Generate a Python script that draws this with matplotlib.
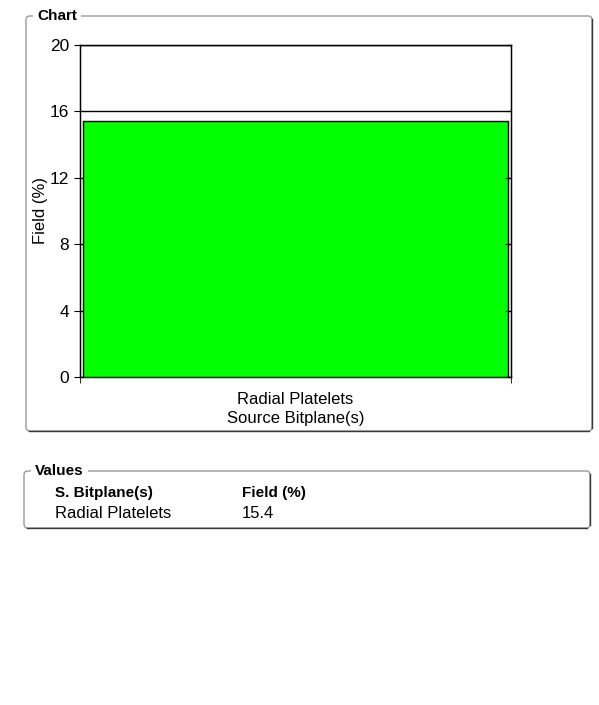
import matplotlib
matplotlib.use("Agg")
import matplotlib.pyplot as plt
from matplotlib.patches import FancyBboxPatch
from matplotlib.lines import Line2D

plt.rcParams['font.family'] = ['Liberation Sans', 'DejaVu Sans']

categories = ["Radial Platelets"]
field_pct = [15.4]
y_ticks = [0, 4, 8, 12, 16, 20]
table_headers = ["S. Bitplane(s)", "Field (%)"]

W, H = 599, 705
fig = plt.figure(figsize=(W / 100, H / 100), dpi=100)


def fx(px):
    return px / W


def fy(py):
    return 1 - py / H


def group_box(x0, y0, x1, y1, title, tx):
    box = FancyBboxPatch((fx(x0), fy(y1)), fx(x1) - fx(x0), fy(y0) - fy(y1),
                         boxstyle="round,pad=0,rounding_size=0.006",
                         transform=fig.transFigure, facecolor="none",
                         edgecolor="#9a9a9a", linewidth=1.0)
    fig.patches.append(box)
    # darker bottom and right edges
    fig.add_artist(Line2D([fx(x0 + 3), fx(x1 - 3)], [fy(y1), fy(y1)],
                          transform=fig.transFigure, color="#3a3a3a", lw=1.0))
    fig.add_artist(Line2D([fx(x1), fx(x1)], [fy(y0 + 3), fy(y1 - 3)],
                          transform=fig.transFigure, color="#3a3a3a", lw=1.0))
    fig.text(fx(tx), fy(y0), title, fontsize=11, fontweight="bold",
             ha="left", va="center",
             bbox=dict(facecolor="white", edgecolor="none", pad=3))


group_box(26, 16, 592, 431, "Chart", 37)
group_box(24, 471, 590, 528, "Values", 35)

ax = fig.add_axes([fx(80), fy(377), fx(511) - fx(80), fy(45) - fy(377)])
x = list(range(len(categories)))
ax.bar(x, field_pct, width=0.986, color="#00ff00", edgecolor="black",
       linewidth=1.0, zorder=3)
ax.set_xlim(-0.5, len(categories) - 0.5)
ax.set_ylim(0, 20)
ax.set_yticks(y_ticks)
ax.yaxis.grid(True, color="black", linewidth=1.0)
ax.set_axisbelow(True)
ax.tick_params(axis="y", direction="out", length=4, labelsize=12.5, pad=4)
ax.set_xticks(x)
ax.set_xticklabels(categories, fontsize=12)
ax.set_xticks([-0.5, len(categories) - 0.5], minor=True)
ax.tick_params(axis="x", which="major", length=0, pad=11)
ax.tick_params(axis="x", which="minor", direction="out", length=4)
ax.set_xlabel("Source Bitplane(s)", fontsize=12, labelpad=3)
ax.set_ylabel("Field (%)", fontsize=12, labelpad=1)
for s in ax.spines.values():
    s.set_linewidth(1.0)

ax2 = ax.twinx()
ax2.set_ylim(0, 20)
ax2.set_yticks(y_ticks)
ax2.tick_params(axis="y", direction="in", length=4, labelright=False)

# values table
fig.text(fx(55), fy(493), table_headers[0], fontsize=11, fontweight="bold",
         ha="left", va="center")
fig.text(fx(242), fy(493), table_headers[1], fontsize=11, fontweight="bold",
         ha="left", va="center")
for i, (c, v) in enumerate(zip(categories, field_pct)):
    yy = 514 + i * 21
    fig.text(fx(55), fy(yy), c, fontsize=12, ha="left", va="center")
    fig.text(fx(242), fy(yy), f"{v}", fontsize=12, ha="left", va="center")

fig.savefig("out.png", dpi=100, facecolor="white")
